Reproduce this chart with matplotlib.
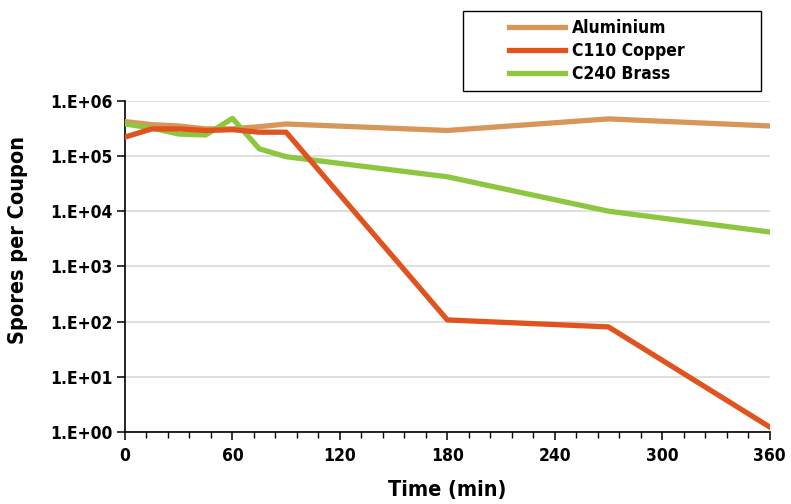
import numpy as np
import matplotlib
matplotlib.use("Agg")
import matplotlib.pyplot as plt
from matplotlib.ticker import FixedLocator, MultipleLocator, FuncFormatter
from matplotlib.patches import Rectangle

plt.rcParams['font.family'] = ['Liberation Sans Narrow', 'DejaVu Sans']
plt.rcParams['font.stretch'] = 'condensed'
plt.rcParams['font.weight'] = 'bold'

# sampling times (min)
t = [0, 15, 30, 45, 60, 75, 90, 180, 270, 360]

# spores per coupon
aluminium = [4.2e5, 3.7e5, 3.5e5, 3.1e5, 3.1e5, 3.4e5, 3.8e5, 2.9e5, 4.7e5, 3.5e5]
copper = [2.2e5, 3.1e5, 3.1e5, 2.9e5, 3.0e5, 2.7e5, 2.7e5, 1.07e2, 8.0e1, 1.23]
brass = [3.8e5, 3.2e5, 2.5e5, 2.4e5, 4.8e5, 1.35e5, 9.7e4, 4.2e4, 1.0e4, 4.2e3]

fig = plt.figure(figsize=(7.91, 5.04), dpi=100)
ax = fig.add_axes([0.158, 0.143, 0.815, 0.657])

ax.plot(t, aluminium, color='#D8975A', lw=3.8, label='Aluminium', zorder=3)
ax.plot(t, copper, color='#E0531F', lw=3.8, label='C110 Copper', zorder=4)
ax.plot(t, brass, color='#8DC63F', lw=3.8, label='C240 Brass', zorder=3)

ax.set_yscale('log')
ax.set_ylim(1, 1e6)
ax.set_xlim(0, 360)
ax.yaxis.set_major_locator(FixedLocator([10.0**k for k in range(7)]))
ax.yaxis.set_minor_locator(FixedLocator([]))
ax.yaxis.set_major_formatter(FuncFormatter(lambda v, p: "1.E+%02d" % int(round(np.log10(v)))))
ax.xaxis.set_major_locator(MultipleLocator(60))
ax.xaxis.set_minor_locator(MultipleLocator(12))

ax.grid(axis='y', color='#d9d9d9', lw=1.2, zorder=0)
ax.set_axisbelow(True)
for s in ['top', 'right']:
    ax.spines[s].set_visible(False)
for s in ['left', 'bottom']:
    ax.spines[s].set_linewidth(1.2)

ax.tick_params(axis='both', which='major', labelsize=12.5, length=6, width=1.1, direction='out')
ax.tick_params(axis='x', which='minor', length=4, width=1.0, direction='out')
ax.tick_params(axis='x', pad=5)
ax.tick_params(axis='y', pad=3)

ax.set_xlabel('Time (min)', fontsize=15.5, fontweight='bold', labelpad=11)
ax.set_ylabel('Spores per Coupon', fontsize=15.5, fontweight='bold')
ax.yaxis.set_label_coords(-0.15, 0.58)

fig.patches.append(Rectangle((463 / 791, 1 - 91 / 504), 298 / 791, 80 / 504,
                             transform=fig.transFigure, fill=False, edgecolor='black', lw=1.0))
leg = fig.legend(loc='upper left', bbox_to_anchor=(509 / 791, 1 - 19 / 504), fontsize=12.5,
                 frameon=False, handlelength=3.2, borderpad=0.0, borderaxespad=0.0,
                 labelspacing=0.3, handletextpad=0.45)

fig.savefig('out.png', dpi=100)
